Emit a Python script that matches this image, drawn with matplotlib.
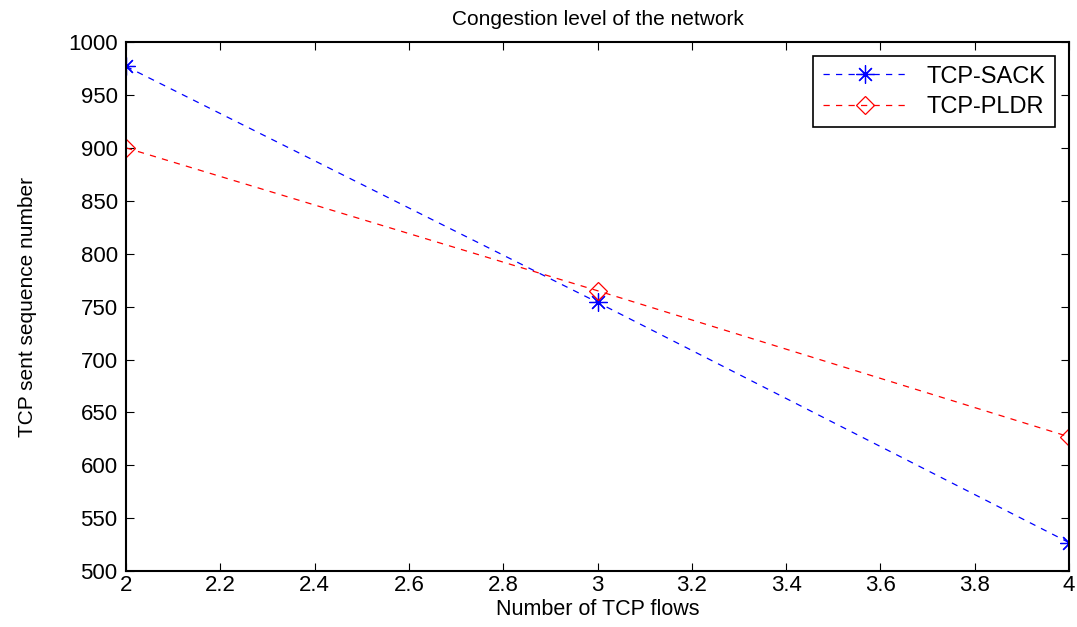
import matplotlib
matplotlib.use('Agg')
import matplotlib.pyplot as plt

plt.rcParams['font.family'] = ['Liberation Sans', 'DejaVu Sans']

flows = [2, 3, 4]
sack = [977, 754, 527]
pldr = [900, 765, 627]

fig = plt.figure(figsize=(10.77, 6.27), dpi=100)
ax = fig.add_axes([0.117, 0.089, 0.8756, 0.844])

dash = (0, (5, 5))
ax.plot(flows, sack, color='b', linestyle=dash, marker=(8, 2, 0), markersize=13,
        markeredgewidth=0.9, linewidth=0.9, label='TCP-SACK')
ax.plot(flows, pldr, color='r', linestyle=dash, marker='D', markersize=9.5,
        markerfacecolor='none', markeredgewidth=0.9, linewidth=0.9, label='TCP-PLDR')

ax.set_xlim(2, 4)
ax.set_ylim(500, 1000)
ax.set_xticks([2, 2.2, 2.4, 2.6, 2.8, 3, 3.2, 3.4, 3.6, 3.8, 4])
ax.set_xticklabels(['2', '2.2', '2.4', '2.6', '2.8', '3', '3.2', '3.4', '3.6', '3.8', '4'])
ax.set_yticks(range(500, 1001, 50))
ax.tick_params(direction='in', top=True, right=True, labelsize=16, length=6,
               width=0.8, pad=6)
ax.tick_params(axis='x', pad=3)
for s in ax.spines.values():
    s.set_linewidth(1.5)

ax.set_title('Congestion level of the network', fontsize=15, pad=12)
ax.set_xlabel('Number of TCP flows', fontsize=15.5, labelpad=2)
ax.set_ylabel('TCP sent sequence number', fontsize=15, labelpad=22)

leg = ax.legend(loc='upper right', fontsize=17, fancybox=False, framealpha=1,
                edgecolor='black', handlelength=3.6, borderaxespad=0.6,
                labelspacing=0.35, borderpad=0.4)
leg.get_frame().set_linewidth(1.2)

fig.savefig('out.png', dpi=100)
